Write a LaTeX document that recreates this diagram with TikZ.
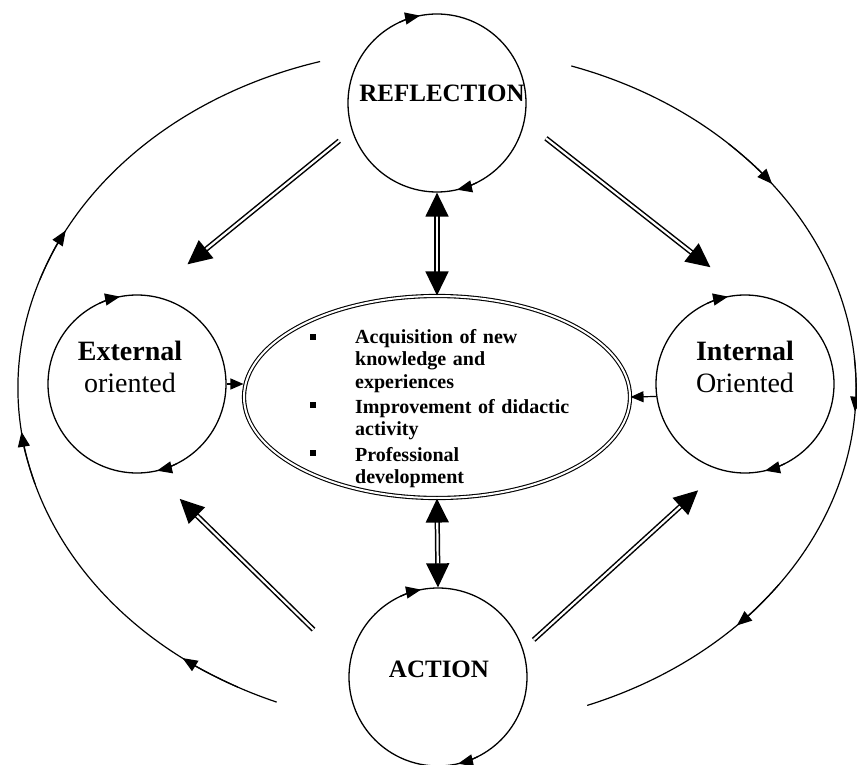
\documentclass[tikz,border=0pt]{standalone}
\usepackage{fontspec}
\setmainfont{Liberation Serif}
\usepackage{tikz}
\usetikzlibrary{arrows.meta}
\usetikzlibrary{shapes.geometric}
\usetikzlibrary{calc}
\tikzstyle{dblarrow}= [double, line width=1.5pt, double distance=2.2pt, -{Triangle[length=24pt,width=23pt]}]
\tikzstyle{bsdblarrow}= [double, line width=1.5pt, double distance=2.2pt, {Triangle[length=24pt,width=23pt]}-{Triangle[length=24pt,width=23pt]}]
\tikzstyle{smallarrow}= [line width=1.2pt, -{Triangle[length=13pt,width=11pt]}]
\tikzstyle{cycletip}= [line width=1.2pt, -{Triangle[length=15pt,width=12pt]}]

\begin{document}
\begin{tikzpicture}[
    x=1pt, y=1pt,
    phase/.style={draw, circle, line width=1.3pt, minimum size=178pt, inner sep=0pt},
    goal/.style={draw, ellipse, double, line width=1.1pt, double distance=2pt,
      minimum width=386pt, minimum height=202pt, inner sep=0pt},
    phasetext/.style={font=\fontsize{25}{30}\selectfont\bfseries},
    sidetext/.style={align=center, font=\fontsize{28}{32}\selectfont},
    itemtext/.style={anchor=base west, inner sep=0pt, text width=220pt, align=left,
      font=\fontsize{20}{22.5}\selectfont\bfseries},
    bulletsq/.style={fill, rectangle, minimum size=6pt, inner sep=0pt}
  ]
  \useasboundingbox (0,0) rectangle (857,-765);

  \node[phase] (refl) at (437,-103) {};
  \node[phase] (ext) at (137,-384) {};
  \node[phase] (intl) at (745,-384) {};
  \node[phase] (act) at (438,-677) {};
  \node[goal] (goals) at (437,-397) {};

  \node[phasetext] (refltxt) at (442,-93) {REFLECTION};
  \node[phasetext] (acttxt) at (439,-669) {ACTION};
  \node[sidetext] (exttxt) at (130,-367) {\textbf{External}\\oriented};
  \node[sidetext] (intltxt) at (745,-367) {\textbf{Internal}\\Oriented};

  % goals inside the ellipse
  \node[bulletsq] (b1) at (313,-337) {};
  \node[bulletsq] (b2) at (313,-405) {};
  \node[bulletsq] (b3) at (313,-453) {};
  \node[itemtext] (it1) at (355,-343) {Acquisition of new\\knowledge and\\experiences};
  \node[itemtext] (it2) at (355,-413) {Improvement of didactic\\activity};
  \node[itemtext] (it3) at (355,-461) {Professional\\development};

  % cycle arrows on the circles
  \foreach \ph in {refl,ext,intl,act}{
    \draw[cycletip] ([shift={(115:89)}]\ph.center) arc[start angle=115, end angle=101, radius=89];
    \draw[cycletip] ([shift={(297:89)}]\ph.center) arc[start angle=297, end angle=283, radius=89];
  }

  % outer loop
  \coordinate (loopc) at (437,-388);
  \draw[line width=1.2pt] ([shift={(247.5:419 and 340)}]loopc)
    arc[start angle=247.5, end angle=106.2, x radius=419, y radius=340];
  \draw[line width=1.2pt] ([shift={(71.3:419 and 340)}]loopc)
    arc[start angle=71.3, end angle=-69, x radius=419, y radius=340];
  \foreach \t in {232.6,187.4,152.4,36.9,-4,-44.3}
    \draw[cycletip] ([shift={(\t+9:419 and 340)}]loopc)
      arc[start angle=\t+9, end angle=\t, x radius=419, y radius=340];

  % arrows between the phases
  \draw[bsdblarrow] (refl.south) -- (goals.north);
  \draw[bsdblarrow] (goals.south) -- (act.north);
  \draw[dblarrow, shorten <=16pt, shorten >=49pt] (refl.198) -- (ext.82);
  \draw[dblarrow, shorten <=27pt, shorten >=44pt] (refl.348) -- (intl.90);
  \draw[dblarrow, shorten <=50pt, shorten >=38pt] (act.172) -- (ext.280);
  \draw[dblarrow, shorten <=14pt, shorten >=30pt] (act.18) -- (intl.254);
  \draw[smallarrow] (ext.east) -- (ext.east -| goals.west);
  \draw[smallarrow] (intl.188) -- (goals.east);
\end{tikzpicture}
\end{document}
